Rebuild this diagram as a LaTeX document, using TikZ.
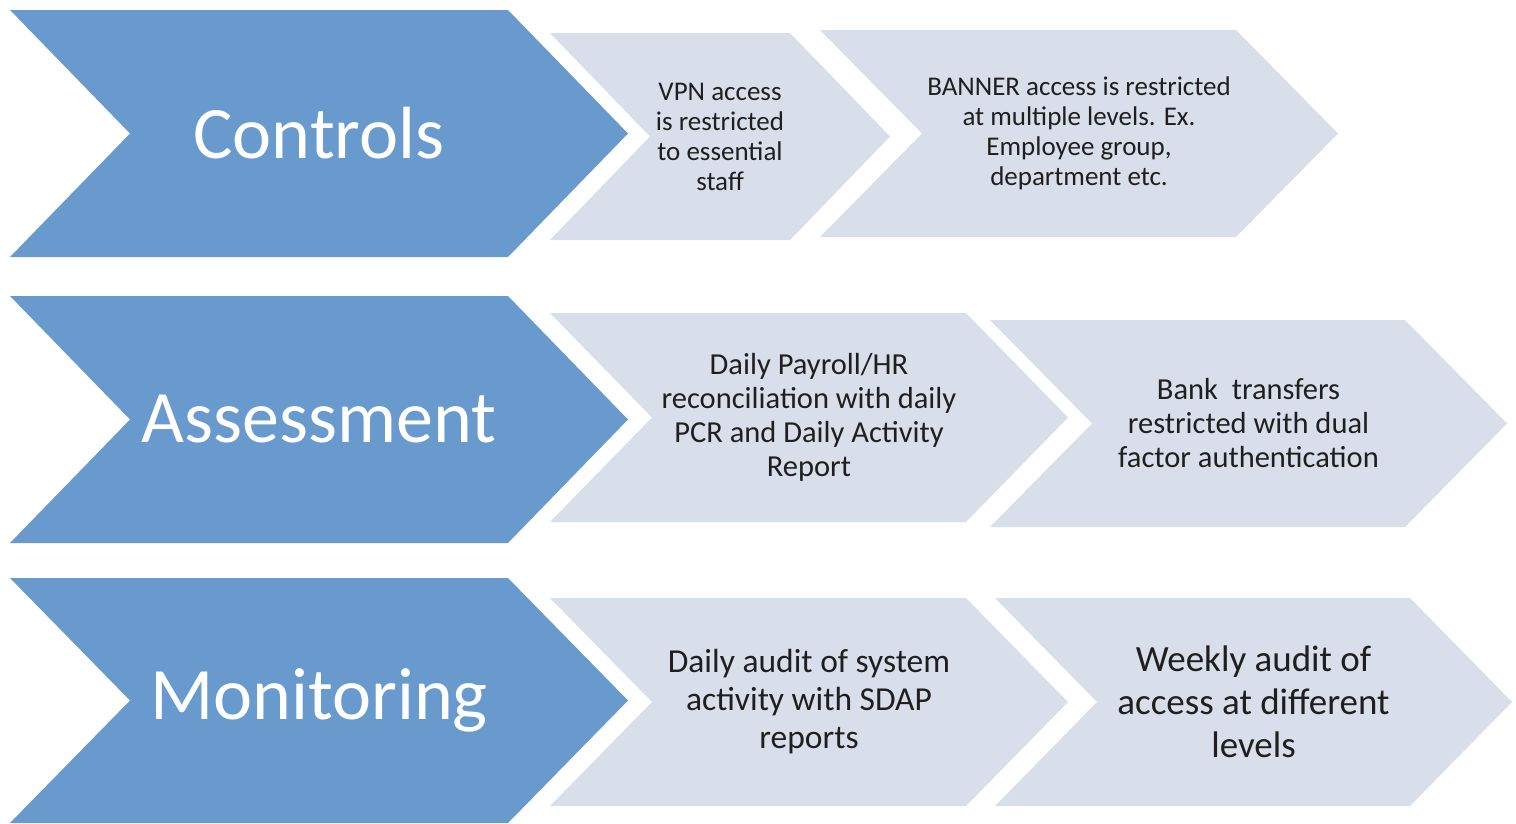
\documentclass[tikz,border=0pt]{standalone}
\usepackage{fontspec}
\setmainfont{Carlito}
\usepackage{tikz}
\definecolor{stageblue}{RGB}{104,154,206}
\definecolor{steplight}{RGB}{216,223,235}
\tikzstyle{stage} = [fill=stageblue, draw=none]
\tikzstyle{stepshape} = [fill=steplight, draw=none]
\tikzstyle{stagetext} = [text=white, align=center, font=\fontsize{74}{80}\selectfont]
\tikzstyle{steptext} = [text=black!88, align=center]
% chevron: name, x, top, width, height, depth, shape style, text style, text
\newcommand{\chev}[9]{%
  \fill[#7] (#2,#3) -- ({#2+#4-#6},#3) -- ({#2+#4},{#3+#5/2}) -- ({#2+#4-#6},{#3+#5})
    -- (#2,{#3+#5}) -- ({#2+#6},{#3+#5/2}) -- cycle;
  \node(#1)[#8] at ({#2+#4/2},{#3+#5/2}) {#9};}

\begin{document}
\begin{tikzpicture}[x=1pt, y=-1pt]
    \useasboundingbox[fill=white] (0,0) rectangle (1516,823);

    % Controls
    \chev{ctrl}{10}{10}{618}{247}{120}{stage}{stagetext}{Controls}
    \chev{ctrlA}{550}{33}{340}{207}{100}{stepshape}{steptext, font=\fontsize{27}{30}\selectfont}
      {VPN access\\is restricted\\to essential\\staff}
    \chev{ctrlB}{820}{30}{518}{207}{102}{stepshape}{steptext, font=\fontsize{27}{30}\selectfont}
      {BANNER access is restricted\\at multiple levels. Ex.\\Employee group,\\department etc.}

    % Assessment
    \chev{assess}{10}{296}{618}{247}{120}{stage}{stagetext}{Assessment}
    \chev{assessA}{550}{313}{518}{209}{102}{stepshape}{steptext, font=\fontsize{30.5}{34}\selectfont}
      {Daily Payroll/HR\\reconciliation with daily\\PCR and Daily Activity\\Report}
    \chev{assessB}{990}{320}{517}{207}{102}{stepshape}{steptext, font=\fontsize{30.5}{34}\selectfont}
      {Bank\ \ transfers\\restricted with dual\\factor authentication}

    % Monitoring
    \chev{monit}{10}{578}{618}{245}{120}{stage}{stagetext}{Monitoring}
    \chev{monitA}{550}{598}{518}{208}{102}{stepshape}{steptext, font=\fontsize{33.5}{38}\selectfont}
      {Daily audit of system\\activity with SDAP\\reports}
    \chev{monitB}{995}{598}{517}{208}{102}{stepshape}{steptext, font=\fontsize{37}{43}\selectfont}
      {Weekly audit of\\access at different\\levels}
\end{tikzpicture}
\end{document}
